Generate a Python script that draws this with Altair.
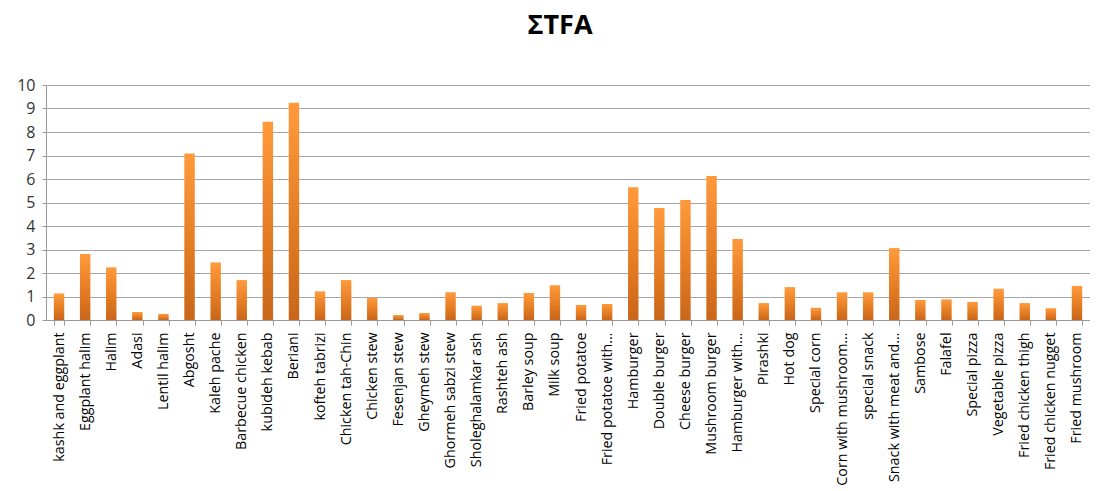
import altair as alt
import pandas as pd

categories = [
    "kashk and eggplant", "Eggplant halim", "Halim", "Adasi", "Lentil halim",
    "Abgosht", "Kaleh pache", "Barbecue chicken", "kubideh kebab", "Beriani",
    "kofteh tabrizi", "Chicken tah-Chin", "Chicken stew", "Fesenjan stew",
    "Gheymeh stew", "Ghormeh sabzi stew", "Sholeghalamkar ash", "Rashteh ash",
    "Barley soup", "Milk soup", "Fried potatoe", "Fried potatoe with…",
    "Hamburger", "Double burger", "Cheese burger", "Mushroom burger",
    "Hamburger with…", "Pirashki", "Hot dog", "Special corn",
    "Corn with mushroom…", "special snack", "Snack with meat and…", "Sambose",
    "Falafel", "Special pizza", "Vegetable pizza", "Fried chicken thigh",
    "Fried chicken nugget", "Fried mushroom",
]
values = [
    1.13, 2.81, 2.24, 0.34, 0.26,
    7.09, 2.45, 1.70, 8.44, 9.25,
    1.22, 1.70, 0.94, 0.21,
    0.30, 1.18, 0.61, 0.72,
    1.15, 1.48, 0.64, 0.68,
    5.65, 4.77, 5.11, 6.13,
    3.45, 0.72, 1.40, 0.52,
    1.18, 1.18, 3.06, 0.85,
    0.88, 0.77, 1.33, 0.72,
    0.50, 1.45,
]

df = pd.DataFrame({"food": categories, "tfa": values})

FONT = "Open Sans"

gradient = alt.Gradient(
    gradient="linear",
    stops=[
        alt.GradientStop(color="#FF9A3C", offset=0),
        alt.GradientStop(color="#E27A22", offset=0.6),
        alt.GradientStop(color="#C9661A", offset=1),
    ],
    x1=0, x2=0, y1=0, y2=1,
)

chart = (
    alt.Chart(df)
    .mark_bar(color=gradient)
    .encode(
        x=alt.X(
            "food:N",
            sort=categories,
            title=None,
            scale=alt.Scale(paddingInner=0.6, paddingOuter=0.3),
            axis=alt.Axis(
                labelAngle=-90,
                labelFont=FONT,
                labelFontSize=14.3,
                labelColor="#000000",
                labelPadding=7,
                labelLimit=200,
                tickBand="extent",
                tickSize=5,
                tickColor="#999999",
                domainColor="#999999",
                grid=False,
            ),
        ),
        y=alt.Y(
            "tfa:Q",
            title=None,
            scale=alt.Scale(domain=[0, 10], nice=False),
            axis=alt.Axis(
                values=list(range(0, 11)),
                labelFont=FONT,
                labelFontSize=16,
                labelColor="#333333",
                labelPadding=7,
                tickSize=4,
                tickColor="#999999",
                domainColor="#999999",
                gridColor="#a6a6a6",
                gridWidth=1,
            ),
        ),
    )
    .properties(
        width=1044,
        height=235,
        title=alt.TitleParams(
            "ΣTFA",
            font=FONT,
            fontSize=27,
            fontWeight="bold",
            color="#000000",
            anchor="middle",
            offset=37,
            dx=-8,
        ),
        autosize=alt.AutoSizeParams(type="none"),
        padding={"left": 38, "top": 77, "right": 0, "bottom": 170},
    )
    .configure_view(stroke=None)
)

chart.save("out.html", embed_options={"renderer": "svg", "actions": False})
